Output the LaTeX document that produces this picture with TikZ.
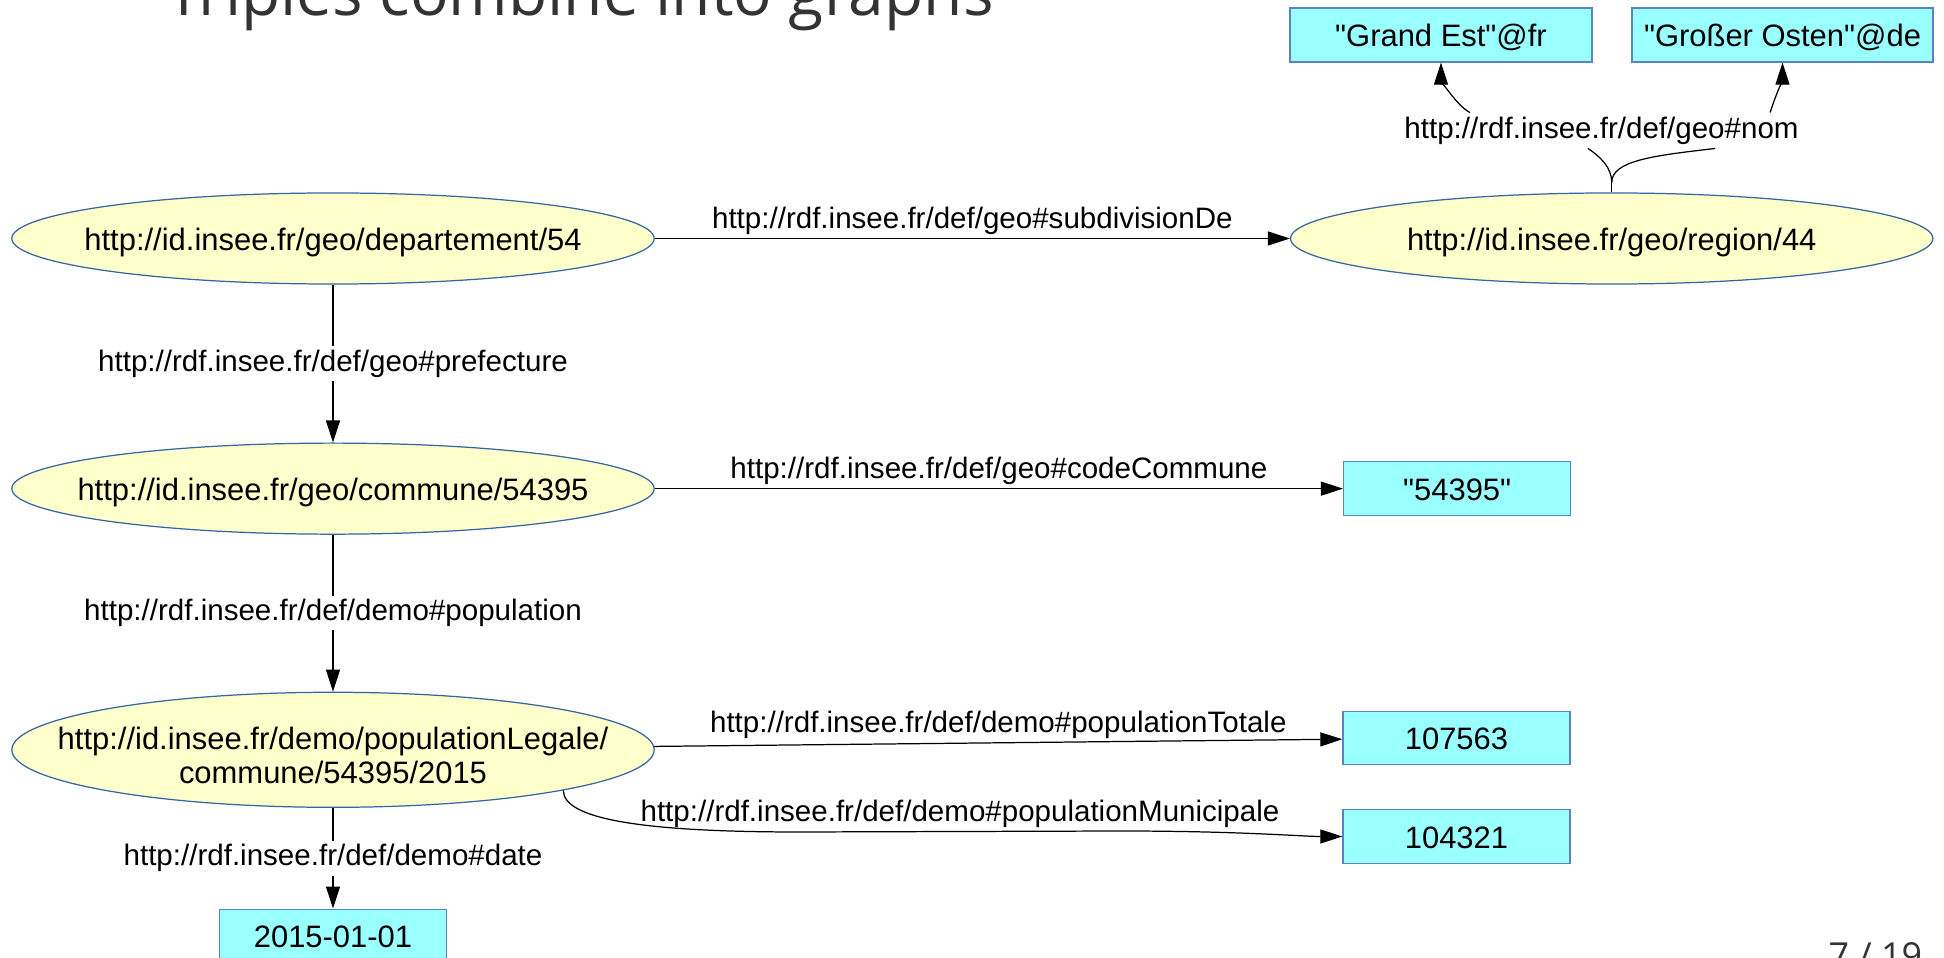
\documentclass[tikz,border=0pt]{standalone}
\usepackage{fontspec}
\setmainfont{Liberation Sans}
\newfontfamily\graphfont{Liberation Sans}
\newfontfamily\slidefont{Open Sans}
\usetikzlibrary{positioning, arrows.meta, shapes.geometric}

\definecolor{urifill}{HTML}{FFFFCC}
\definecolor{uriline}{HTML}{3465A4}
\definecolor{litfill}{HTML}{99FFFF}
\definecolor{litline}{HTML}{5B84BE}
\definecolor{slidegray}{HTML}{333333}

\begin{document}
\begin{tikzpicture}[x=0.01cm, y=-0.01cm, node distance=4cm,
    uri/.style={ellipse, draw=uriline, fill=urifill, line width=0.35pt, minimum width=6.42cm, minimum height=0.91cm, inner sep=0pt, text height=0.25cm, text depth=0.02cm, font=\graphfont\fontsize{8.8pt}{9.7pt}\selectfont},
    literal/.style={rectangle, draw=litline, fill=litfill, line width=0.35pt, minimum width=2.27cm, minimum height=0.535cm, inner sep=0pt, text height=0.25cm, text depth=0.02cm, font=\graphfont\fontsize{8.8pt}{9.7pt}\selectfont},
    prop/.style={font=\graphfont\fontsize{8.4pt}{9pt}\selectfont, inner sep=1pt},
    wire/.style={line width=0.35pt},
    link/.style={wire, -{Triangle[length=0.22cm, width=0.14cm]}}]
    \useasboundingbox (0,0) rectangle (1944,958);
    \clip (0,0) rectangle (1944,958);

    % Slide title and page number
    \node[anchor=base west, inner sep=0pt, text=slidegray, font=\slidefont\fontsize{18.2pt}{20pt}\selectfont] (title) at (166,16) {Triples combine into graphs};
    \node[anchor=base west, inner sep=0pt, text=slidegray, font=\slidefont\fontsize{10.2pt}{12pt}\selectfont] (pagenum) at (1828,969) {7 / 19};

    % Define nodes
    \node[uri] (dept) at (333,238.5) {\makebox[0pt]{http://id.insee.fr/geo/departement/54}};
    \node[uri, right of=dept, node distance=12.78cm] (region) {\makebox[0pt]{http://id.insee.fr/geo/region/44}};
    \node[uri, below of=dept, node distance=2.5cm] (commune) {\makebox[0pt]{http://id.insee.fr/geo/commune/54395}};
    \node[uri, below of=commune, node distance=2.61cm, minimum height=1.15cm, text depth=0.26cm] (poplegale) {\makebox[0pt]{\begin{tabular}[t]{@{}c@{}}http://id.insee.fr/demo/populationLegale/\\commune/54395/2015\end{tabular}}};

    \node[literal, right of=commune, node distance=11.235cm] (code) {"54395"};
    \node[literal] (total) at (1456.5,738) {107563};
    \node[literal] (municipal) at (1456.5,836.5) {104321};
    \node[literal, below of=poplegale, node distance=1.86cm] (date) {2015-01-01};
    \node[literal, minimum width=3.02cm, minimum height=0.54cm] (nomfr) at (1441,35) {"Grand Est"@fr};
    \node[literal, minimum width=3.01cm, minimum height=0.54cm] (nomde) at (1782.5,35) {"Großer Osten"@de};

    % Arrows from departement
    \draw[link] (dept) -- node[prop, above] (lsub) {http://rdf.insee.fr/def/geo\#subdivisionDe} (region);
    \draw[link] (dept) -- node[prop, fill=white] (lpref) {http://rdf.insee.fr/def/geo\#prefecture} (commune);

    % Arrows from commune
    \draw[link] (commune) -- node[prop, above] (lcode) {http://rdf.insee.fr/def/geo\#codeCommune} (code);
    \draw[link] (commune) -- node[prop, fill=white] (lpop) {http://rdf.insee.fr/def/demo\#population} (poplegale);

    % Arrows from populationLegale
    \draw[link] (poplegale) -- node[prop, above] (ltotal) {http://rdf.insee.fr/def/demo\#populationTotale} (total);
    \draw[link] (poplegale.-10) .. controls +(0,30) and +(-150,0) .. (800,832)
        -- node[prop, above] (lmunicipal) {http://rdf.insee.fr/def/demo\#populationMunicipale} (1120,831)
        .. controls +(120,0) and +(-40,0) .. (municipal.west);
    \draw[link] (poplegale) -- node[prop, fill=white] (ldate) {http://rdf.insee.fr/def/demo\#date} (date);

    % Names of the region
    \node[prop] (lnom) at (1601.5,130.5) {http://rdf.insee.fr/def/geo\#nom};
    \coordinate[above=0.1cm of region.north] (nomfork);
    \draw[wire] (region.north) -- (nomfork);
    \draw[wire] (nomfork) .. controls +(0,-15) and +(12,8) .. ([xshift=-0.135cm]lnom.south);
    \draw[wire] (nomfork) .. controls +(0,-22) and +(-60,7) .. ([xshift=1.135cm]lnom.south);
    \draw[link] ([xshift=-1.315cm]lnom.north) .. controls +(-15,-8) and +(0,15) .. (nomfr.south);
    \draw[link] ([xshift=1.685cm]lnom.north) .. controls +(5,-15) and +(0,15) .. (nomde.south);
\end{tikzpicture}
\end{document}
